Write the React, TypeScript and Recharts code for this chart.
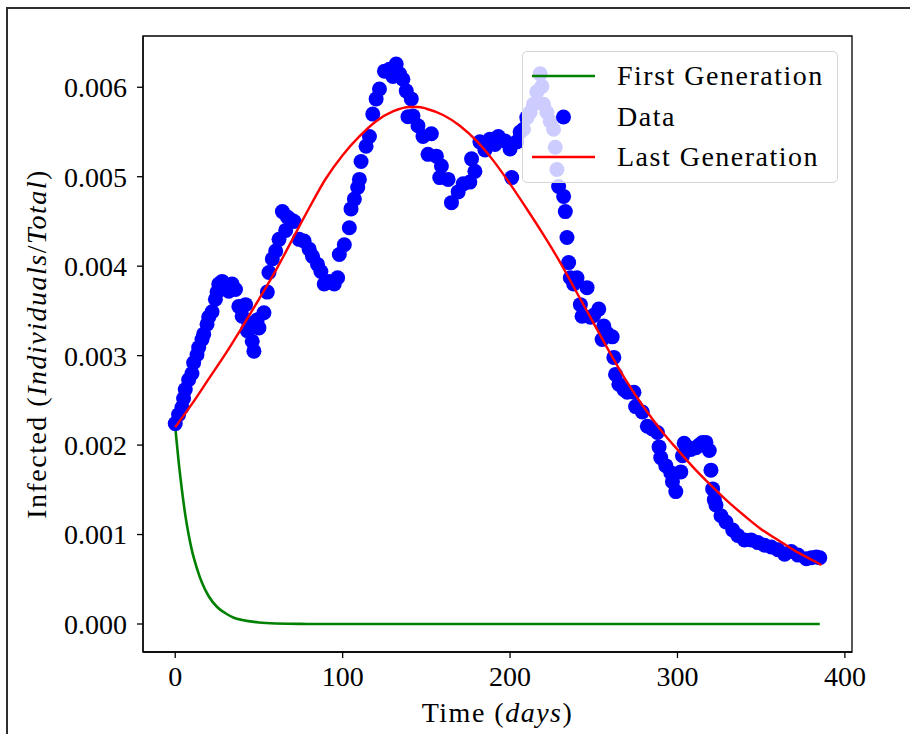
import React from 'react';
import { ComposedChart, Line, Scatter, XAxis, YAxis, Legend, ReferenceArea, Label } from 'recharts';

const FONT = '"Liberation Serif", "Times New Roman", serif';

// observed data (day, infected fraction x 1e-3)
const dataDays = [
  0, 2, 4, 5, 6, 8, 10, 11, 13, 14, 16, 17, 19, 20, 22, 24, 25, 26, 28, 30,
  32, 34, 36, 38, 40, 42, 43, 44, 46, 47, 49, 50, 53, 55, 56, 58, 60, 62, 64, 66,
  67, 69, 71, 74, 77, 80, 82, 85, 87, 89, 92, 95, 97, 98, 101, 104, 105, 107, 109, 110,
  111, 114, 116, 118, 120, 122, 125, 128, 130, 132, 134, 136, 138, 139, 141, 142, 145, 148, 151, 153,
  156, 158, 159, 163, 165, 169, 172, 176, 177, 179, 182, 185, 188, 191, 193, 197, 200, 201, 204, 206,
  208, 210, 212, 214, 216, 218, 219, 220, 222, 224, 226, 227, 228, 229, 232, 233, 234, 235, 236, 238,
  240, 242, 243, 246, 248, 250, 253, 255, 256, 258, 261, 262, 263, 265, 268, 270, 274, 275, 279, 282,
  285, 288, 289, 290, 293, 296, 297, 299, 302, 303, 304, 306, 308, 311, 313, 315, 317, 319, 320, 321,
  322, 323, 326, 329, 333, 336, 340, 344, 348, 352, 356, 360, 364, 368, 372, 377, 380, 383, 385,
];
const dataValues = [
  2.24, 2.34, 2.42, 2.52, 2.62, 2.73, 2.8, 2.92, 3.01, 3.09, 3.18, 3.24, 3.35, 3.43, 3.49, 3.63, 3.71, 3.8, 3.83, 3.76,
  3.72, 3.8, 3.74, 3.55, 3.44, 3.57, 3.28, 3.36, 3.16, 3.05, 3.4, 3.31, 3.48, 3.71, 3.93, 4.08, 4.17, 4.3, 4.61, 4.4,
  4.55, 4.52, 4.5, 4.3, 4.28, 4.19, 4.11, 4.02, 3.94, 3.8, 3.83, 3.8, 3.87, 4.13, 4.24, 4.43, 4.64, 4.75, 4.88, 4.97,
  5.17, 5.34, 5.45, 5.7, 5.87, 5.98, 6.18, 6.2, 6.12, 6.26, 6.15, 6.09, 5.96, 5.67, 5.87, 5.68, 5.57, 5.45, 5.25, 5.48,
  5.23, 4.99, 5.12, 4.97, 4.71, 4.83, 4.92, 4.94, 5.2, 5.06, 5.39, 5.3, 5.42, 5.36, 5.45, 5.4, 5.31, 4.99, 5.39, 5.5,
  5.53, 5.66, 5.72, 5.81, 5.95, 6.15, 6.01, 5.81, 5.72, 5.62, 5.53, 5.33, 5.08, 4.89, 4.78, 4.61, 4.32, 4.04, 3.87, 3.8,
  3.87, 3.57, 3.44, 3.76, 3.43, 3.45, 3.52, 3.18, 3.33, 3.25, 3.21, 2.98, 2.79, 2.68, 2.62, 2.59, 2.59, 2.43, 2.37, 2.21,
  2.18, 2.14, 1.98, 1.86, 1.77, 1.69, 1.59, 1.48, 1.7, 1.88, 2.02, 1.98, 1.95, 1.97, 2.0, 2.03, 2.03, 1.94, 1.72, 1.51,
  1.39, 1.33, 1.21, 1.14, 1.05, 0.99, 0.94, 0.94, 0.91, 0.88, 0.86, 0.83, 0.78, 0.81, 0.77, 0.73, 0.74, 0.75, 0.74,
];

// first generation model
const firstGenDays = [0, 2, 4, 6, 8, 10, 13, 16, 20, 25, 30, 35, 40, 50, 60, 75, 100, 200, 300, 385];
const firstGenValues = [2.2, 1.82, 1.5, 1.22, 1.0, 0.82, 0.62, 0.46, 0.31, 0.19, 0.12, 0.07, 0.045, 0.017, 0.006, 0.001, 0, 0, 0, 0];

// last generation model
const lastGenDays = [
  0, 10, 20, 30, 40, 50, 60, 70, 80, 90, 100, 110, 120, 130, 140, 145, 150, 160, 170, 180,
  190, 200, 210, 220, 230, 240, 250, 260, 270, 280, 290, 300, 310, 320, 330, 340, 350, 360, 370, 380, 386,
];
const lastGenValues = [
  2.2, 2.46, 2.74, 3.02, 3.32, 3.63, 3.95, 4.3, 4.65, 4.98, 5.24, 5.45, 5.62, 5.73, 5.78, 5.78, 5.76, 5.69, 5.57, 5.4,
  5.18, 4.92, 4.64, 4.35, 4.04, 3.7, 3.36, 3.02, 2.7, 2.42, 2.17, 1.95, 1.74, 1.55, 1.37, 1.21, 1.06, 0.94, 0.82, 0.72, 0.66,
];

const xTicks = [0, 100, 200, 300, 400];
const yTicks = [0, 0.001, 0.002, 0.003, 0.004, 0.005, 0.006];

const X_DOMAIN: [number, number] = [-19.25, 404.25];
const Y_DOMAIN: [number, number] = [-0.000313, 0.006573];

const toRows = (days: number[], vals: number[]) => days.map((d, i) => ({ day: d, value: vals[i] / 1000 }));

const scatterRows = toRows(dataDays, dataValues);
const firstRows = toRows(firstGenDays, firstGenValues);
const lastRows = toRows(lastGenDays, lastGenValues);

const legendItems = [
  { label: 'First Generation', kind: 'line', color: '#008000' },
  { label: 'Data', kind: 'dot', color: '#0000ff' },
  { label: 'Last Generation', kind: 'line', color: '#ff0000' },
];

function LegendBox() {
  return (
    <div
      style={{
        boxSizing: 'border-box',
        width: 316,
        height: 132,
        background: 'rgba(255,255,255,0.8)',
        border: '1px solid #d6d6d6',
        borderRadius: 5,
        padding: '4px 0 0 9px',
        fontFamily: FONT,
        fontSize: 28,
        letterSpacing: 1.5,
        color: '#000',
      }}
    >
      {legendItems.map((item) => (
        <div key={item.label} style={{ display: 'flex', alignItems: 'center', height: 40.5 }}>
          <svg width={63} height={20} style={{ marginRight: 22, flex: 'none' }}>
            {item.kind === 'line' ? (
              <line x1={0} y1={10} x2={63} y2={10} stroke={item.color} strokeWidth={2.5} />
            ) : (
              <circle cx={31.5} cy={10} r={7.5} fill={item.color} />
            )}
          </svg>
          <span style={{ whiteSpace: 'nowrap' }}>{item.label}</span>
        </div>
      ))}
    </div>
  );
}

const YLabel = (props: any) => {
  const vb = props.viewBox || { x: 0, y: 36, width: 143, height: 616 };
  const cx = vb.x + 46;
  const cy = vb.y + vb.height / 2;
  return (
    <text
      x={cx}
      y={cy}
      transform={`rotate(-90 ${cx} ${cy})`}
      textAnchor="middle"
      fontFamily={FONT}
      fontSize={28}
      letterSpacing={1.5}
      fill="#000"
    >
      Infected (<tspan fontStyle="italic">Individuals</tspan>/<tspan fontStyle="italic">Total</tspan>)
    </text>
  );
};

const XLabel = (props: any) => {
  const vb = props.viewBox || { x: 143, y: 652, width: 709, height: 82 };
  return (
    <text
      x={vb.x + vb.width / 2}
      y={vb.y + 70}
      textAnchor="middle"
      fontFamily={FONT}
      fontSize={28}
      letterSpacing={1.5}
      fill="#000"
    >
      Time (<tspan fontStyle="italic">days</tspan>)
    </text>
  );
};

const tickStyle = { fontSize: 28, fill: '#000', fontFamily: FONT };

export default function App() {
  return (
    <div style={{ position: 'absolute', left: 0, top: 0, width: 910, height: 734, background: '#fff', overflow: 'hidden' }}>
      <div
        style={{
          position: 'absolute',
          left: 6,
          top: 7,
          width: 960,
          height: 780,
          border: '2px solid #2e2e2e',
          pointerEvents: 'none',
        }}
      />
      <ComposedChart width={910} height={734} margin={{ top: 36, right: 58, bottom: 0, left: 0 }}>
        <XAxis
          type="number"
          dataKey="day"
          domain={X_DOMAIN}
          ticks={xTicks}
          allowDataOverflow
          height={82}
          tickSize={6}
          tickMargin={8}
          tick={tickStyle}
          axisLine={{ stroke: '#000', strokeWidth: 1.3 }}
          tickLine={{ stroke: '#000', strokeWidth: 1.3 }}
        >
          <Label content={XLabel} />
        </XAxis>
        <YAxis
          type="number"
          domain={Y_DOMAIN}
          ticks={yTicks}
          allowDataOverflow
          width={143}
          tickSize={6}
          tickMargin={10}
          tickFormatter={(v: number) => v.toFixed(3)}
          tick={tickStyle}
          axisLine={{ stroke: '#000', strokeWidth: 1.3 }}
          tickLine={{ stroke: '#000', strokeWidth: 1.3 }}
        >
          <Label content={YLabel} />
        </YAxis>
        <ReferenceArea
          x1={X_DOMAIN[0]}
          x2={X_DOMAIN[1]}
          y1={Y_DOMAIN[0]}
          y2={Y_DOMAIN[1]}
          fill="none"
          stroke="#000"
          strokeWidth={1.3}
          ifOverflow="visible"
        />
        <Line
          data={firstRows}
          dataKey="value"
          type="monotone"
          stroke="#008000"
          strokeWidth={2.6}
          dot={false}
          activeDot={false}
          isAnimationActive={false}
          name="First Generation"
        />
        <Scatter
          data={scatterRows}
          dataKey="value"
          fill="#0000ff"
          isAnimationActive={false}
          name="Data"
          shape={(p: any) => <circle cx={p.cx} cy={p.cy} r={7.5} fill="#0000ff" />}
        />
        <Line
          data={lastRows}
          dataKey="value"
          type="monotone"
          stroke="#ff0000"
          strokeWidth={2.4}
          dot={false}
          activeDot={false}
          isAnimationActive={false}
          name="Last Generation"
          zIndex={700}
        />
        <Legend
          layout="vertical"
          align="center"
          verticalAlign="middle"
          wrapperStyle={{ left: 522, top: 51, width: 316, height: 132 }}
          content={() => <LegendBox />}
        />
      </ComposedChart>
    </div>
  );
}
